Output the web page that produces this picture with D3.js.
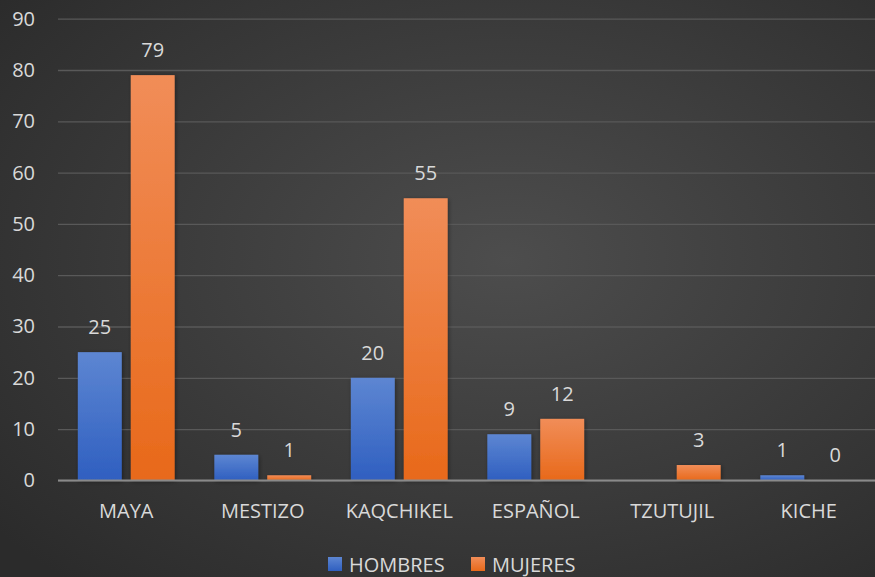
<!DOCTYPE html>
<html><head><meta charset="utf-8">
<script src="https://cdn.jsdelivr.net/npm/d3@7"></script>
<style>html,body{margin:0;padding:0;background:#3a3a3a;}svg{display:block;}</style>
</head><body>
<script>
const categories = ["MAYA","MESTIZO","KAQCHIKEL","ESPAÑOL","TZUTUJIL","KICHE"];
const hombres = [25,5,20,9,null,1];
const mujeres = [79,1,55,12,3,0];
const seriesNames = ["HOMBRES","MUJERES"];
const yTicks = [0,10,20,30,40,50,60,70,80,90];

(function(){
const W=875,H=577;
const svg=d3.select("body").append("svg").attr("width",W).attr("height",H);
const defs=svg.append("defs");
const bg=defs.append("radialGradient").attr("id","bg").attr("cx","58%").attr("cy","45%").attr("r","75%");
bg.append("stop").attr("offset","0%").attr("stop-color","#4d4d4d");
bg.append("stop").attr("offset","100%").attr("stop-color","#2b2b2b");
const gb=defs.append("linearGradient").attr("id","gb").attr("x1",0).attr("y1",0).attr("x2",0).attr("y2",1);
gb.append("stop").attr("offset","0%").attr("stop-color","#5d86d2");
gb.append("stop").attr("offset","100%").attr("stop-color","#2f5fc0");
const go=defs.append("linearGradient").attr("id","go").attr("x1",0).attr("y1",0).attr("x2",0).attr("y2",1);
go.append("stop").attr("offset","0%").attr("stop-color","#f18d58");
go.append("stop").attr("offset","100%").attr("stop-color","#e8691a");
const sh=defs.append("filter").attr("id","sh").attr("x","-20%").attr("y","-20%").attr("width","140%").attr("height","140%");
sh.append("feDropShadow").attr("dx",1).attr("dy",1).attr("stdDeviation",2).attr("flood-color","#000").attr("flood-opacity",0.4);

svg.append("rect").attr("width",W).attr("height",H).attr("fill","url(#bg)");

const pL=58,pR=877,pT=18.7,pB=480.4;
const x=d3.scaleBand().domain(categories).range([pL,pR]).paddingInner(0).paddingOuter(0);
const y=d3.scaleLinear().domain([0,90]).range([pB,pT]);
const xs=d3.scaleBand().domain(seriesNames).range([0,x.bandwidth()]).paddingInner(0.17).paddingOuter(0.375);

const font="'Open Sans', 'Liberation Sans', sans-serif";
const txt="#d9d9d9";
const fs="20px";

const yAxis=d3.axisLeft(y).tickValues(yTicks).tickSize(-(W-pL)).tickPadding(23);
const ga=svg.append("g").attr("transform",`translate(${pL},0)`).call(yAxis);
ga.select(".domain").remove();
ga.selectAll(".tick line").attr("stroke","#595959").attr("stroke-width",1.3);
ga.selectAll(".tick text").attr("fill",txt).style("font-family",font).style("font-size",fs);

const data=categories.map((c,i)=>({c,vals:[hombres[i],mujeres[i]]}));
const fills=["url(#gb)","url(#go)"];
const g=svg.append("g");
data.forEach(d=>{
  d.vals.forEach((v,j)=>{
    if(v==null) return;
    const bx=x(d.c)+xs(seriesNames[j]);
    if(v>0) g.append("rect").attr("x",bx).attr("y",y(v)).attr("width",xs.bandwidth()).attr("height",y(0)-y(v)).attr("fill",fills[j]).attr("filter","url(#sh)");
    g.append("text").attr("x",bx+xs.bandwidth()/2).attr("y",y(v)-18).attr("text-anchor","middle")
      .attr("fill",txt).style("font-family",font).style("font-size",fs).text(v);
  });
});
svg.append("line").attr("x1",pL).attr("x2",W).attr("y1",y(0)).attr("y2",y(0)).attr("stroke","#8a8a8a").attr("stroke-width",2);

const xAxis=d3.axisBottom(x).tickSize(0).tickPadding(23);
const gx=svg.append("g").attr("transform",`translate(0,${pB})`).call(xAxis);
gx.select(".domain").remove();
gx.selectAll("text").attr("fill",txt).style("font-family",font).style("font-size",fs);

const legX=[328,471];
seriesNames.forEach((n,i)=>{
  svg.append("rect").attr("x",legX[i]).attr("y",557).attr("width",14).attr("height",14).attr("fill",fills[i]);
  svg.append("text").attr("x",legX[i]+21).attr("y",572).attr("fill",txt).style("font-family",font).style("font-size",fs).text(n);
});
})();
</script>
</body></html>
